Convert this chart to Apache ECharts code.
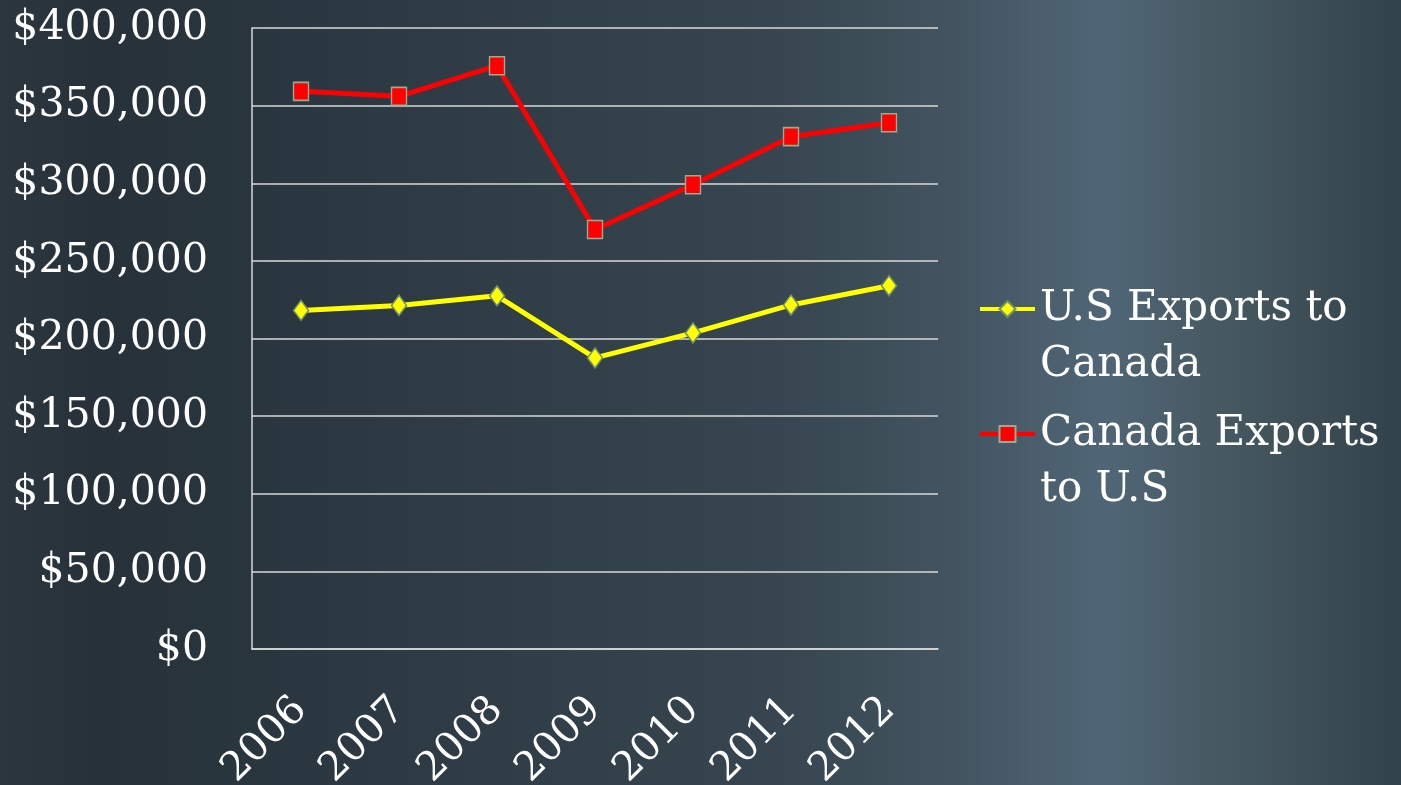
<!DOCTYPE html>
<html>
<head>
<meta charset="utf-8">
<script src="https://cdn.jsdelivr.net/npm/echarts@6/dist/echarts.min.js"></script>
<style>
html,body{margin:0;padding:0;width:1401px;height:785px;overflow:hidden;}
#chart{width:1401px;height:785px;}
</style>
</head>
<body>
<div id="chart"></div>
<script>
const years = ['2006','2007','2008','2009','2010','2011','2012'];
const usExports = [218100, 221300, 227500, 187500, 203600, 221600, 234000];
const canadaExports = [359200, 356000, 375700, 270200, 299000, 330000, 339000];
const seriesNames = ['U.S Exports to\nCanada', 'Canada Exports\nto U.S'];

const chart = echarts.init(document.getElementById('chart'));
const fontFam = '"DejaVu Serif", serif';
const legendText = {color: '#ffffff', fontFamily: fontFam, fontSize: 42, lineHeight: 56};
function makeLegend(name, top) {
  return {
    orient: 'vertical',
    left: 973,
    top: top,
    itemWidth: 55,
    itemHeight: 20,
    data: [name],
    formatter: n => '\n' + n,
    lineStyle: {width: 4},
    textStyle: legendText
  };
}
chart.setOption({
  backgroundColor: new echarts.graphic.LinearGradient(0, 0, 1, 0, [
    {offset: 0, color: '#2b363e'},
    {offset: 0.07, color: '#263139'},
    {offset: 0.3, color: '#2e3b44'},
    {offset: 0.55, color: '#36454f'},
    {offset: 0.68, color: '#435460'},
    {offset: 0.79, color: '#506676'},
    {offset: 0.88, color: '#45575f'},
    {offset: 1, color: '#32424c'}
  ]),
  animation: false,
  grid: {left: 252, right: 463, top: 28, bottom: 136, containLabel: false, outerBoundsMode: 'none'},
  legend: [makeLegend(seriesNames[0], 220), makeLegend(seriesNames[1], 345)],
  xAxis: {
    type: 'category',
    data: years,
    boundaryGap: true,
    axisLine: {show: true, lineStyle: {color: '#d9d9d9', width: 1.5}},
    axisTick: {show: false},
    axisLabel: {color: '#ffffff', fontFamily: fontFam, fontSize: 40, rotate: 45, margin: 55}
  },
  yAxis: {
    type: 'value',
    min: 0, max: 400000, interval: 50000,
    axisLine: {show: true, lineStyle: {color: '#d9d9d9', width: 1.5}},
    axisTick: {show: false},
    splitLine: {show: true, lineStyle: {color: '#d9d9d9', width: 1.5}},
    axisLabel: {color: '#ffffff', fontFamily: fontFam, fontSize: 41, margin: 44,
      formatter: v => '$' + v.toLocaleString('en-US')}
  },
  series: [
    {
      name: seriesNames[0], type: 'line', data: usExports,
      symbol: 'diamond', symbolSize: [15, 20],
      lineStyle: {color: '#ffff00', width: 5},
      itemStyle: {color: '#ffff00', borderColor: '#6f8f6a', borderWidth: 1.5}
    },
    {
      name: seriesNames[1], type: 'line', data: canadaExports,
      symbol: 'rect', symbolSize: [15, 18],
      lineStyle: {color: '#ff0000', width: 5},
      itemStyle: {color: '#ff0000', borderColor: '#94ad94', borderWidth: 1.5}
    }
  ]
});
</script>
</body>
</html>
